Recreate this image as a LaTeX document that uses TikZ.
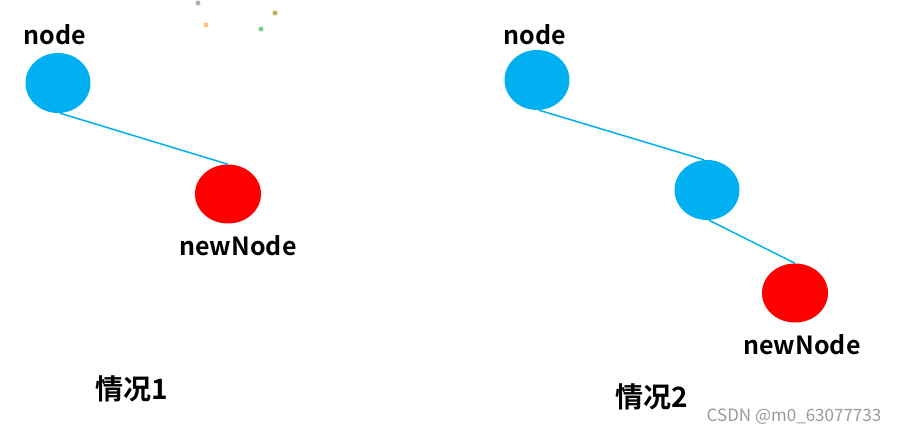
\documentclass[tikz,border=0pt]{standalone}
\usepackage{fontspec}
\usetikzlibrary{shapes.geometric}
\setmainfont{Noto Sans CJK SC}[BoldFont={* Bold}]
\definecolor{nodeblue}{HTML}{00B0F0}
\definecolor{nodered}{HTML}{FF0000}
\begin{document}
\begin{tikzpicture}[x=1pt,y=-1pt,
  bluenode/.style={ellipse,fill=nodeblue,minimum width=65pt,minimum height=60pt,inner sep=0pt},
  rednode/.style={ellipse,fill=nodered,minimum width=66pt,minimum height=59pt,inner sep=0pt},
  edgeline/.style={draw=nodeblue,line width=1.5pt},
  lbl/.style={font=\fontsize{25}{27}\selectfont\bfseries,inner sep=0pt},
  caption/.style={font=\fontsize{28}{30}\selectfont\bfseries,inner sep=0pt},
  wmark/.style={font=\fontsize{17}{19}\selectfont,text=black!40,inner sep=0pt}]
\useasboundingbox (0,0) rectangle (897,435);
% decorative dots
\fill[gray!60] (198,3) circle (2.5);
\fill[orange!50] (206,25) circle (2.5);
\fill[green!60!black!50] (261,29) circle (2.5);
\fill[olive!60] (275,13) circle (2.5);
% left
\node[bluenode] (a1) at (58,83) {};
\node[rednode] (b1) at (228,194) {};
\draw[edgeline] ([xshift=2pt]a1.south) -- (b1.north);
\node[lbl] (la1) at (55,35) {node};
\node[lbl] (lb1) at (238,246) {newNode};
\node[caption] (c1) at (132,389) {情况1};
% right
\node[bluenode] (a2) at (537,80) {};
\node[bluenode] (m2) at (707,190) {};
\node[rednode] (b2) at (795,293) {};
\draw[edgeline] ([xshift=2pt]a2.south) -- ([xshift=-3pt]m2.north);
\draw[edgeline] ([xshift=2pt]m2.south) -- (b2.north);
\node[lbl] (la2) at (535,35) {node};
\node[lbl] (lb2) at (802,345) {newNode};
\node[caption] (c2) at (652,397) {情况2};
\node[wmark] (wm) at (794,417) {CSDN @m0\_63077733};
\end{tikzpicture}
\end{document}
